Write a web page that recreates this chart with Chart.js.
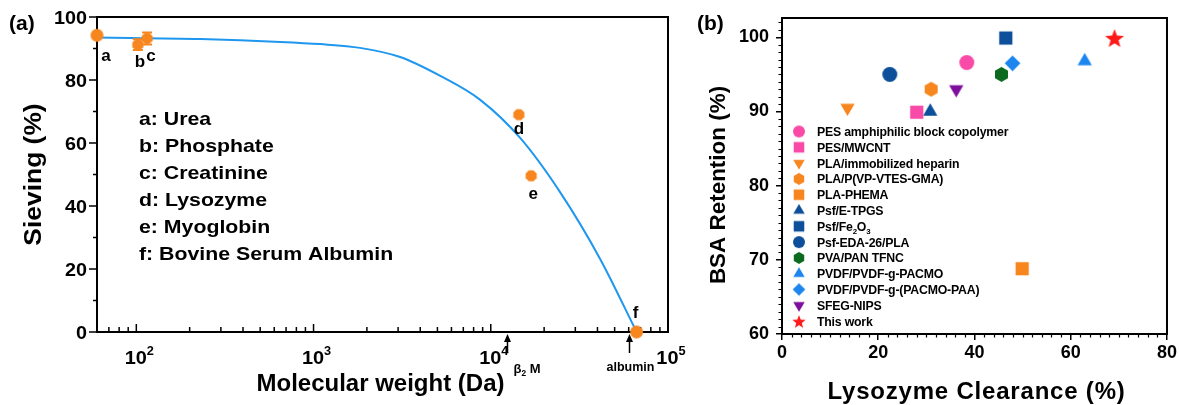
<!DOCTYPE html>
<html>
<head>
<meta charset="utf-8">
<script src="https://cdn.jsdelivr.net/npm/chart.js@4.4.0/dist/chart.umd.min.js"></script>
<style>
  body { margin: 0; background: #fff; }
  #wrap { position: relative; width: 1179px; height: 405px; }
  #boxA { position: absolute; left: 0; top: 0; }
  #boxB { position: absolute; left: 680px; top: 0; }
</style>
</head>
<body>
<div id="wrap">
  <div id="boxA"><canvas id="chartA" width="700" height="405"></canvas></div>
  <div id="boxB"><canvas id="chartB" width="499" height="405"></canvas></div>
</div>
<script>
// ---- panel (a): sieving vs molecular weight ----
const soluteLetters = ['a', 'b', 'c', 'd', 'e', 'f'];
const soluteNames = ['Urea', 'Phosphate', 'Creatinine', 'Lysozyme', 'Myoglobin', 'Bovine Serum Albumin'];
const soluteMw = [60, 102, 115, 14400, 16900, 66500];
const soluteSieving = [94.2, 91.2, 93.2, 69.0, 49.6, 0];
const soluteErr = [0, 1.7, 1.9, 0, 0, 0];
const fitMw = [60, 230, 650, 1090, 1830, 3080, 5190, 8720, 14650, 24600, 41400, 66500];
const fitSieving = [93.5, 93.0, 92.1, 91.4, 90.2, 87.3, 81.3, 73.7, 61.6, 44.4, 23.2, 0];
const markerNames = ['β_2 M', 'albumin'];
const markerMw = [12400, 60000];
const sieveTicks = [0, 20, 40, 60, 80, 100];
const decadeExp = [2, 3, 4, 5];

// ---- panel (b): BSA retention vs lysozyme clearance ----
const membranes = [
  'PES amphiphilic block copolymer', 'PES/MWCNT', 'PLA/immobilized heparin',
  'PLA/P(VP-VTES-GMA)', 'PLA-PHEMA', 'Psf/E-TPGS', 'Psf/Fe_2O_3', 'Psf-EDA-26/PLA',
  'PVA/PAN TFNC', 'PVDF/PVDF-g-PACMO', 'PVDF/PVDF-g-(PACMO-PAA)', 'SFEG-NIPS', 'This work'
];
const clearance = [38.4, 28.0, 13.6, 31.0, 49.9, 30.8, 46.5, 22.4, 45.6, 62.9, 47.9, 36.2, 69.1];
const retention = [96.6, 89.9, 90.5, 93.0, 68.8, 90.0, 99.9, 95.0, 95.0, 96.8, 96.5, 93.0, 99.9];
const memShapes = ['circle', 'square', 'down', 'hex', 'square', 'up', 'square', 'circle', 'hex', 'up', 'diamond', 'down', 'star'];
const memColors = ['#f84aa6', '#f84aa6', '#f7861e', '#f7861e', '#f7861e', '#0d4f9a', '#0d4f9a', '#0d4f9a',
                   '#0b6a1e', '#1c86ee', '#1c86ee', '#7d0f9c', '#ff1a1a'];

const ORANGE = '#f7861e';
const FIT_BLUE = '#1f97ee';
const FONT = 'Arial, "Liberation Sans", sans-serif';

function makeMarker(shape, color, d) {
  const s = Math.ceil(d + 2);
  const c = document.createElement('canvas');
  c.width = s; c.height = s;
  const g = c.getContext('2d');
  const r = d / 2, cx = s / 2, cy = s / 2;
  const poly = (n, rr, a0) => {
    for (let i = 0; i < n; i++) {
      const a = a0 + i * 2 * Math.PI / n;
      const px = cx + rr * Math.cos(a), py = cy + rr * Math.sin(a);
      i ? g.lineTo(px, py) : g.moveTo(px, py);
    }
    g.closePath();
  };
  g.fillStyle = color;
  g.beginPath();
  if (shape === 'circle') g.arc(cx, cy, r, 0, Math.PI * 2);
  else if (shape === 'square') g.rect(cx - r * 0.88, cy - r * 0.88, r * 1.76, r * 1.76);
  else if (shape === 'up') poly(3, r * 1.1, -Math.PI / 2);
  else if (shape === 'down') poly(3, r * 1.1, Math.PI / 2);
  else if (shape === 'hex') poly(6, r, -Math.PI / 2);
  else if (shape === 'oct') poly(8, r, Math.PI / 8);
  else if (shape === 'diamond') poly(4, r * 1.05, 0);
  else if (shape === 'star') {
    for (let i = 0; i < 10; i++) {
      const a = -Math.PI / 2 + i * Math.PI / 5;
      const rr = i % 2 ? r * 0.42 : r;
      const px = cx + rr * Math.cos(a), py = cy + 1 + rr * Math.sin(a);
      i ? g.lineTo(px, py) : g.moveTo(px, py);
    }
    g.closePath();
  }
  g.fill();
  return c;
}

// text with _x subscripts and ^x superscripts
function rich(ctx, str, x, y, o) {
  const parts = [];
  for (let i = 0; i < str.length; i++) {
    const ch = str[i];
    if ((ch === '_' || ch === '^') && i + 1 < str.length) { parts.push({ t: str[i + 1], k: ch }); i++; }
    else if (parts.length && !parts[parts.length - 1].k) parts[parts.length - 1].t += ch;
    else parts.push({ t: ch, k: null });
  }
  const fnt = s => (o.weight || 'bold') + ' ' + s + 'px ' + FONT;
  ctx.save();
  ctx.letterSpacing = (o.ls || 0) + 'px';
  let w = 0;
  parts.forEach(p => {
    p.size = p.k ? o.size * 0.64 : o.size;
    ctx.font = fnt(p.size);
    p.w = ctx.measureText(p.t).width;
    w += p.w;
  });
  ctx.translate(x, y);
  if (o.rot) ctx.rotate(o.rot);
  ctx.scale(o.sx || 1, 1);
  ctx.textBaseline = 'alphabetic';
  ctx.textAlign = 'left';
  ctx.fillStyle = o.color || '#000';
  let cx = o.align === 'center' ? -w / 2 : o.align === 'right' ? -w : 0;
  parts.forEach(p => {
    ctx.font = fnt(p.size);
    const dy = p.k === '_' ? o.size * 0.22 : p.k === '^' ? -o.size * 0.45 : 0;
    ctx.fillText(p.t, cx, dy);
    cx += p.w;
  });
  ctx.restore();
}

// ---------------- chart (a) ----------------
const dotA = makeMarker('circle', ORANGE, 13);
const octA = makeMarker('oct', ORANGE, 12);
const letterOffset = [[9, 26], [2, 22], [4, 23], [0, 19], [2, 23], [-1, -14]];

const panelA = {
  id: 'panelA',
  beforeDatasetsDraw(chart) {
    const ctx = chart.ctx, a = chart.chartArea;
    const xs = chart.scales.x, ys = chart.scales.y;
    ctx.save();
    ctx.strokeStyle = '#000';
    ctx.lineWidth = 2;
    ctx.strokeRect(a.left, a.top, a.right - a.left, a.bottom - a.top);
    ctx.lineWidth = 1.5;
    ctx.beginPath();
    for (let v = 0; v <= 100; v += 10) {
      const py = ys.getPixelForValue(v);
      const len = v % 20 === 0 ? 8 : 4;
      ctx.moveTo(a.left, py); ctx.lineTo(a.left - len, py);
    }
    for (let e = 1; e <= 4; e++) {
      for (let m = 1; m <= 9; m++) {
        const v = m * Math.pow(10, e);
        if (v < xs.min || v > xs.max) continue;
        const px = xs.getPixelForValue(v);
        const len = m === 1 ? 8 : 5;
        ctx.moveTo(px, a.bottom); ctx.lineTo(px, a.bottom - len);
      }
    }
    ctx.stroke();
    ctx.restore();
  },
  afterDatasetsDraw(chart) {
    const ctx = chart.ctx, xs = chart.scales.x, ys = chart.scales.y;
    ctx.save();
    ctx.strokeStyle = ORANGE;
    ctx.lineWidth = 2;
    soluteMw.forEach((m, i) => {
      if (!soluteErr[i]) return;
      const px = xs.getPixelForValue(m);
      const y1 = ys.getPixelForValue(soluteSieving[i] - soluteErr[i]);
      const y2 = ys.getPixelForValue(soluteSieving[i] + soluteErr[i]);
      ctx.beginPath();
      ctx.moveTo(px, y1); ctx.lineTo(px, y2);
      ctx.moveTo(px - 5, y1); ctx.lineTo(px + 5, y1);
      ctx.moveTo(px - 5, y2); ctx.lineTo(px + 5, y2);
      ctx.stroke();
    });
    ctx.restore();
  },
  afterDraw(chart) {
    const ctx = chart.ctx, a = chart.chartArea;
    const xs = chart.scales.x, ys = chart.scales.y;
    rich(ctx, '(a)', 9, 30, { size: 21 });
    sieveTicks.forEach(v => rich(ctx, String(v), 87, ys.getPixelForValue(v) + 6.5, { size: 18, align: 'right', sx: 1.1 }));
    decadeExp.forEach(e => rich(ctx, '10^' + e, xs.getPixelForValue(Math.pow(10, e)) + 3, 364, { size: 19, align: 'center', sx: 1.05 }));
    rich(ctx, 'Sieving (%)', 41, (a.top + a.bottom) / 2, { size: 24, align: 'center', rot: -Math.PI / 2, sx: 1.1 });
    rich(ctx, 'Molecular weight (Da)', (a.left + a.right) / 2 - 2, 391, { size: 24, align: 'center' });
    soluteLetters.forEach((l, i) => {
      const px = xs.getPixelForValue(soluteMw[i]), py = ys.getPixelForValue(soluteSieving[i]);
      rich(ctx, l, px + letterOffset[i][0], py + letterOffset[i][1], { size: 17, align: 'center' });
    });
    soluteLetters.forEach((l, i) => {
      rich(ctx, l + ': ' + soluteNames[i], 139, 125 + 27 * i, { size: 19, sx: 1.12 });
    });
    ctx.save();
    ctx.strokeStyle = '#000';
    ctx.fillStyle = '#000';
    ctx.lineWidth = 1.5;
    markerMw.forEach((m, i) => {
      const px = Math.round(xs.getPixelForValue(m)) + 0.5;
      const tip = a.bottom + 2;
      ctx.beginPath();
      ctx.moveTo(px, tip + 5); ctx.lineTo(px, tip + 19);
      ctx.stroke();
      ctx.beginPath();
      ctx.moveTo(px, tip); ctx.lineTo(px - 3.5, tip + 8); ctx.lineTo(px + 3.5, tip + 8);
      ctx.closePath(); ctx.fill();
      if (i === 0) rich(ctx, markerNames[i], px + 6, 373, { size: 13 });
      else rich(ctx, markerNames[i], px + 1, 371, { size: 12.5, align: 'center' });
    });
    ctx.restore();
  }
};

new Chart(document.getElementById('chartA'), {
  type: 'scatter',
  data: {
    datasets: [
      {
        label: 'Fit',
        data: fitMw.map((m, i) => ({ x: m, y: fitSieving[i] })),
        showLine: true,
        borderColor: FIT_BLUE,
        borderWidth: 2,
        pointRadius: 0,
        cubicInterpolationMode: 'monotone',
        order: 2
      },
      {
        label: 'Solutes',
        data: soluteMw.map((m, i) => ({ x: m, y: soluteSieving[i] })),
        pointStyle: soluteMw.map((m, i) => (i === 0 || i === 5) ? dotA : octA),
        pointRadius: 6,
        clip: false,
        order: 1
      }
    ]
  },
  options: {
    responsive: false,
    animation: false,
    devicePixelRatio: 1,
    layout: { padding: { left: 0, right: 32, top: 17, bottom: 0 } },
    plugins: { legend: { display: false }, tooltip: { enabled: false } },
    scales: {
      x: {
        type: 'logarithmic', min: 60, max: 100000,
        ticks: { display: false }, grid: { display: false }, border: { display: false },
        afterFit: s => { s.height = 73; }
      },
      y: {
        min: 0, max: 100,
        ticks: { display: false }, grid: { display: false }, border: { display: false },
        afterFit: s => { s.width = 97; }
      }
    }
  },
  plugins: [panelA]
});

// ---------------- chart (b) ----------------
const plotMarks = memShapes.map((s, i) => makeMarker(s, memColors[i], s === 'star' ? 20 : 15));
const legendMarks = memShapes.map((s, i) => makeMarker(s, memColors[i], s === 'star' ? 14 : 12));

const panelB = {
  id: 'panelB',
  beforeDatasetsDraw(chart) {
    const ctx = chart.ctx, a = chart.chartArea;
    const xs = chart.scales.x, ys = chart.scales.y;
    ctx.save();
    ctx.strokeStyle = '#000';
    ctx.lineWidth = 2;
    ctx.strokeRect(a.left, a.top, a.right - a.left, a.bottom - a.top);
    ctx.lineWidth = 1.2;
    ctx.beginPath();
    for (let v = 61; v <= 102; v++) {
      if (v % 10 === 0) continue;
      const py = Math.round(ys.getPixelForValue(v)) + 0.5;
      ctx.moveTo(a.left, py); ctx.lineTo(a.left - 3.5, py);
    }
    for (let v = 2; v < 80; v += 2) {
      if (v % 20 === 0) continue;
      const px = Math.round(xs.getPixelForValue(v)) + 0.5;
      ctx.moveTo(px, a.bottom); ctx.lineTo(px, a.bottom + 3.5);
    }
    ctx.stroke();
    ctx.restore();
  },
  afterDraw(chart) {
    const ctx = chart.ctx, a = chart.chartArea;
    rich(ctx, '(b)', 17, 30, { size: 21 });
    rich(ctx, 'BSA Retention (%)', 45, 185, { size: 22, align: 'center', rot: -Math.PI / 2, sx: 1.02 });
    rich(ctx, 'Lysozyme Clearance (%)', (a.left + a.right) / 2 + 2, 399, { size: 24, align: 'center', ls: 0.8 });
    membranes.forEach((name, i) => {
      const cy = 131.5 + i * 15.8;
      const mk = legendMarks[i];
      ctx.drawImage(mk, 119 - mk.width / 2, cy - mk.height / 2);
      rich(ctx, name, 137, cy + 4.5, { size: 12.3, ls: -0.2 });
    });
  }
};

const tickFontB = { family: FONT, size: 18, weight: 'bold' };

new Chart(document.getElementById('chartB'), {
  type: 'scatter',
  data: {
    datasets: membranes.map((name, i) => ({
      label: name,
      data: [{ x: clearance[i], y: retention[i] }],
      pointStyle: plotMarks[i],
      pointRadius: 8,
      clip: false
    }))
  },
  options: {
    responsive: false,
    animation: false,
    devicePixelRatio: 1,
    layout: { padding: { left: 0, right: 7, top: 18, bottom: 0 } },
    plugins: { legend: { display: false }, tooltip: { enabled: false } },
    scales: {
      x: {
        min: 0, max: 80,
        ticks: { stepSize: 20, font: tickFontB, color: '#000', padding: 2, maxRotation: 0 },
        grid: { drawOnChartArea: false, tickLength: 6, color: '#000', lineWidth: 1.5 },
        border: { display: false },
        afterFit: s => { s.height = 71; }
      },
      y: {
        min: 60, max: 102.6,
        ticks: { stepSize: 10, includeBounds: false, font: tickFontB, color: '#000', padding: 7 },
        grid: { drawOnChartArea: false, tickLength: 6, color: '#000', lineWidth: 1.5 },
        border: { display: false },
        afterFit: s => { s.width = 102; }
      }
    }
  },
  plugins: [panelB]
});
</script>
</body>
</html>
